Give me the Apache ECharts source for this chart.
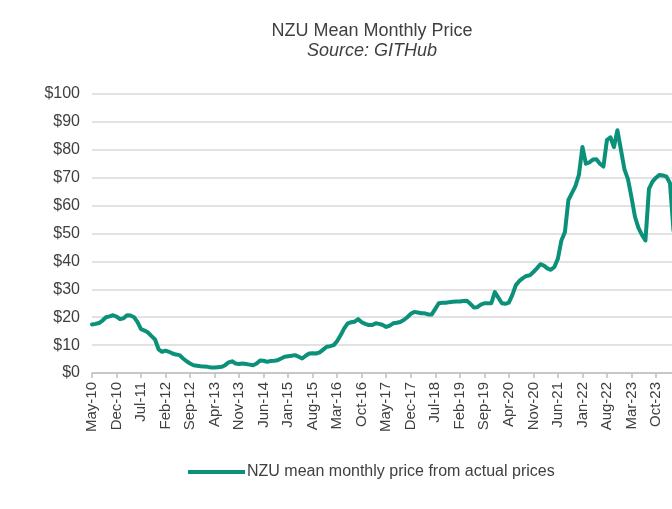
<!DOCTYPE html>
<html>
<head>
<meta charset="utf-8">
<script src="https://cdn.jsdelivr.net/npm/echarts@6/dist/echarts.min.js"></script>
<style>
  html, body { margin: 0; padding: 0; background: #fff; }
  #main { width: 672px; height: 509px; }
</style>
</head>
<body>
<div id="main"></div>
<script>
// month labels, May-10 through Jun-24 (axis runs past the right edge)
const monthNames = ['Jan', 'Feb', 'Mar', 'Apr', 'May', 'Jun', 'Jul', 'Aug', 'Sep', 'Oct', 'Nov', 'Dec'];
const months = [];
for (let y = 2010, m = 4; y < 2024 || (y === 2024 && m <= 5); m++) {
  if (m > 11) { m = 0; y++; }
  months.push(monthNames[m] + '-' + String(y).slice(2));
}

// NZU mean monthly price, one row per year
const price2010 = [17.4, 17.6, 17.9, 18.8, 20.0, 20.3, 20.7, 20.2];
const price2011 = [19.3, 19.6, 20.7, 20.6, 20.0, 18.2, 15.7, 15.2, 14.5, 13.2, 12.0, 8.5];
const price2012 = [7.6, 8.0, 7.6, 7.0, 6.6, 6.4, 5.2, 4.2, 3.4, 2.8, 2.6, 2.4];
const price2013 = [2.3, 2.2, 2.0, 2.0, 2.1, 2.2, 2.8, 3.8, 4.2, 3.4, 3.2, 3.4];
const price2014 = [3.2, 3.0, 2.8, 3.4, 4.5, 4.4, 4.0, 4.3, 4.4, 4.6, 5.2, 5.8];
const price2015 = [6.0, 6.2, 6.4, 5.8, 5.2, 6.2, 7.0, 7.1, 7.0, 7.4, 8.4, 9.4];
const price2016 = [9.6, 10.0, 11.5, 13.6, 16.0, 17.8, 18.2, 18.4, 19.3, 18.2, 17.6, 17.2];
const price2017 = [17.2, 17.8, 17.6, 17.2, 16.5, 17.0, 17.8, 18.0, 18.3, 19.0, 20.0, 21.2];
const price2018 = [21.9, 21.7, 21.4, 21.4, 21.0, 21.0, 23.0, 25.0, 25.2, 25.2, 25.4, 25.5];
const price2019 = [25.6, 25.6, 25.8, 25.9, 24.8, 23.5, 23.6, 24.5, 25.0, 25.0, 25.0, 29.0];
const price2020 = [27.0, 25.0, 24.8, 25.2, 28.0, 31.5, 33.0, 34.0, 34.8, 35.0, 36.2, 37.5];
const price2021 = [39.0, 38.5, 37.5, 37.0, 38.0, 41.0, 47.5, 50.5, 62.0, 64.5, 67.0, 71.0];
const price2022 = [81.0, 75.0, 75.5, 76.5, 76.6, 75.0, 74.0, 83.5, 84.5, 81.0, 87.0, 80.0];
const price2023 = [73.0, 69.5, 63.0, 56.0, 52.0, 49.5, 47.5, 66.0, 68.6, 70.0, 71.0, 70.8];
const price2024 = [70.4, 68.0, 51.0, 50.0];

const prices = [].concat(price2010, price2011, price2012, price2013, price2014, price2015,
  price2016, price2017, price2018, price2019, price2020, price2021, price2022, price2023, price2024);

const yTicks = [0, 10, 20, 30, 40, 50, 60, 70, 80, 90, 100];

const lineColor = '#0b9179';
const textColor = '#404040';
const fontFamily = '"Liberation Sans", Arial, sans-serif';

let chart = echarts.init(document.getElementById('main'), null, {
  width: 672,
  height: 509,
  devicePixelRatio: 1
});

let option = {
  animation: false,
  backgroundColor: '#fff',
  title: {
    text: 'NZU Mean Monthly Price',
    subtext: 'Source: GITHub',
    left: 367,
    top: 17,
    textAlign: 'center',
    itemGap: 2,
    textStyle: { color: textColor, fontSize: 18, fontWeight: 'normal', fontFamily },
    subtextStyle: { color: textColor, fontSize: 18, fontStyle: 'italic', fontFamily }
  },
  legend: {
    left: 183,
    top: 459,
    itemWidth: 57,
    itemHeight: 4,
    icon: 'rect',
    textStyle: { color: textColor, fontSize: 16, fontFamily, padding: [0, 0, 0, -3] },
    data: ['NZU mean monthly price from actual prices']
  },
  grid: {
    left: 92,
    right: -12,
    top: 94,
    bottom: 136,
    outerBoundsMode: 'none',
    containLabel: false
  },
  xAxis: {
    type: 'category',
    data: months,
    boundaryGap: false,
    axisLine: { lineStyle: { color: '#bfbfbf', width: 1.5 } },
    axisTick: { interval: 6, length: 5, lineStyle: { color: '#bfbfbf', width: 1.5 } },
    axisLabel: {
      interval: 6,
      rotate: 90,
      margin: 9,
      color: textColor,
      fontSize: 15,
      fontFamily
    },
    splitLine: { show: false }
  },
  yAxis: {
    type: 'value',
    min: yTicks[0],
    max: yTicks[yTicks.length - 1],
    interval: 10,
    axisLine: { show: false },
    axisTick: { show: false },
    axisLabel: {
      margin: 12,
      color: textColor,
      fontSize: 16,
      fontFamily,
      formatter: v => '$' + v
    },
    splitLine: { lineStyle: { color: '#d9d9d9', width: 1.5 } }
  },
  series: [{
    name: 'NZU mean monthly price from actual prices',
    type: 'line',
    data: prices,
    showSymbol: false,
    symbol: 'none',
    color: lineColor,
    lineStyle: { color: lineColor, width: 4, join: 'round', cap: 'round' }
  }]
};

chart.setOption(option);
</script>
</body>
</html>
